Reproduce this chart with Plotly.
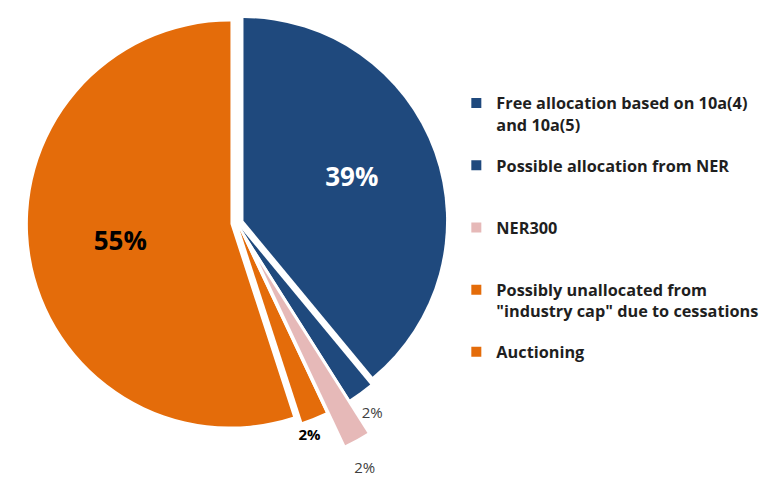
import math
import plotly.graph_objects as go

W, H = 764, 482

labels = [
    "Free allocation based on 10a(4)<br>and 10a(5)",
    "Possible allocation from NER",
    "NER300",
    "Possibly unallocated from<br>\"industry cap\" due to cessations",
    "Auctioning",
]
values = [39, 2, 2, 2, 55]
colors = ["#1F497D", "#1F497D", "#E6B9B8", "#E46C0A", "#E46C0A"]

FONT = "'Open Sans', sans-serif"
TRANSP = "rgba(0,0,0,0)"
NB = "\u00a0"
N = len(values)

R = 210.0            # pie radius (px)
PULL = 7.0 / R       # common explode
PINK_D = 46.0        # extra explode of the NER300 slice (px)
cx, cy = 228.0, 228.0
blue_small_idx, pink_idx, orange_small_idx = 1, 2, 3


def dom_x(c, half):
    return [max(0.0, (c - half) / W), min(1.0, (c + half) / W)]


def dom_y(c, half):
    return [max(0.0, 1 - (c + half) / H), min(1.0, 1 - (c - half) / H)]


half_main = R * (1 + PULL)
main_dom = dict(x=dom_x(cx, half_main), y=dom_y(cy, half_main))

pink_mid = (sum(values[:pink_idx]) + values[pink_idx] / 2) / sum(values) * 2 * math.pi
pcx = cx + PINK_D * math.sin(pink_mid)
pcy = cy - PINK_D * math.cos(pink_mid)
pink_dom = dict(x=dom_x(pcx, R), y=dom_y(pcy, R))

common = dict(values=values, labels=labels, sort=False, direction="clockwise",
              showlegend=False)


def only(idx, color, other=TRANSP):
    return [color if i == idx else other for i in range(N)]


main = go.Pie(
    pull=[PULL] * N,
    marker=dict(colors=colors, line=dict(width=0)),
    textinfo="none",
    domain=main_dom,
    rotation=0,
    hovertemplate="%{label}: %{percent:.0%}<extra></extra>",
    **common,
)

cover = go.Pie(
    pull=[PULL] * N,
    marker=dict(colors=only(pink_idx, "white"),
                line=dict(color=only(pink_idx, "white"),
                          width=only(pink_idx, 2, 0))),
    textinfo="none",
    domain=main_dom,
    rotation=0,
    hoverinfo="skip",
    **common,
)

pink = go.Pie(
    marker=dict(colors=only(pink_idx, colors[pink_idx]), line=dict(width=0)),
    textinfo="none",
    domain=pink_dom,
    rotation=0,
    hoverinfo="skip",
    **common,
)

inside_texts = go.Pie(
    pull=[PULL] * N,
    marker=dict(colors=[TRANSP] * N, line=dict(width=0)),
    texttemplate=[
        "<span style='font-size:26px'><b>" + NB * 3 + "%{percent:.0%}</b></span><br> ",
        "", "", "",
        "<b>%{percent:.0%}" + NB * 3 + "</b>",
    ],
    textposition=["inside", "none", "none", "none", "inside"],
    insidetextorientation="horizontal",
    textfont=dict(family=FONT, color=["white", "#404040", "#404040", "black", "black"],
                  size=[17, 15, 15, 15, 26]),
    domain=main_dom,
    rotation=0,
    hoverinfo="skip",
    **common,
)


def outside_label(idx, template, size, color, dom, pull, rotation):
    # transparent copy of the pie that only carries one outside label,
    # turned slightly so the label sits where the original puts it
    return go.Pie(
        pull=pull,
        marker=dict(colors=[TRANSP] * N, line=dict(width=0)),
        texttemplate=only(idx, template, ""),
        textposition=only(idx, "outside", "none"),
        textfont=dict(family=FONT, color=color, size=size),
        domain=dom,
        rotation=rotation,
        hoverinfo="skip",
        **common,
    )


blue_lbl = outside_label(blue_small_idx,
                         " <br><span style='font-size:15px'>%{percent:.0%}</span>",
                         11, "#404040", main_dom, [PULL] * N, 2)
pink_lbl = outside_label(pink_idx,
                         " <br><span style='font-size:15px'>%{percent:.0%}</span>",
                         13, "#404040", pink_dom, [0] * N, 3.5)
orange_lbl = outside_label(orange_small_idx, "<b>%{percent:.0%}</b>",
                           15, "black", main_dom, [PULL] * N, 6)

# legend entries (square swatches), evenly spaced
legend_traces = []
for i, (lbl, col) in enumerate(zip(labels, colors)):
    n_lines = lbl.count("<br>") + 1
    legend_traces.append(go.Scatter(
        x=[None], y=[None], mode="markers",
        name=lbl + "<br> " * (2 - n_lines),
        marker=dict(symbol="square", size=10, color=col),
        legendgroup=f"g{i}", showlegend=True, hoverinfo="skip",
    ))

fig = go.Figure([main, cover, pink, inside_texts, blue_lbl, pink_lbl, orange_lbl]
                + legend_traces)

LEG_FS = 16.3
line_h = LEG_FS * 1.3
item_h = 2 * line_h + 3
fig.update_layout(
    width=W,
    height=H,
    margin=dict(l=0, r=0, t=0, b=0),
    paper_bgcolor="white",
    plot_bgcolor="white",
    font=dict(family=FONT),
    xaxis=dict(visible=False),
    yaxis=dict(visible=False),
    legend=dict(
        x=451 / W,
        xanchor="left",
        y=1 - 86 / H,
        yanchor="top",
        valign="top",
        traceorder="grouped",
        tracegroupgap=62.2 - item_h,
        font=dict(family=FONT, size=LEG_FS, color="#1F1F1F", weight="bold"),
        itemwidth=30,
        bgcolor="rgba(0,0,0,0)",
    ),
)

fig.write_html(
    "out.html",
    config={"displayModeBar": False},
    post_script="document.body.style.margin='0';document.body.style.overflow='hidden';",
)
